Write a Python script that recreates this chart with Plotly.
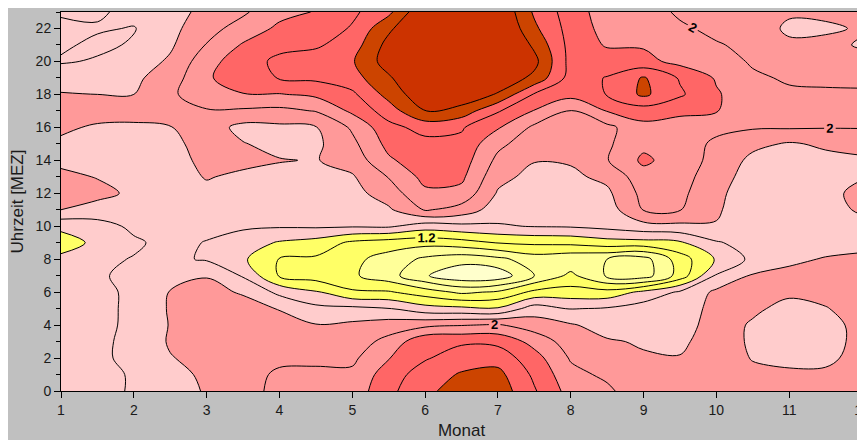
import numpy as np
import plotly.graph_objects as go

# Monate (x) und Uhrzeit (y)
monate = [1, 1.5, 2, 2.5, 3, 3.5, 4, 4.5, 5, 5.5, 6, 6.5, 7, 7.5, 8, 8.5, 9, 9.5, 10, 10.5, 11, 11.5, 12]
stunden_abw = list(range(23, -1, -1))  # order of values in each column: 23 h ... 0 h

# one column per month value, hours 23 -> 0
m_1_0 = [1.58, 1.64, 1.63, 1.58, 1.73, 1.81, 1.90, 1.84, 1.76, 1.75, 1.85, 1.92, 1.80, 1.45, 1.30, 1.45, 1.52, 1.54, 1.55, 1.55, 1.55, 1.55, 1.55, 1.55]
m_1_5 = [1.57, 1.62, 1.56, 1.62, 1.71, 1.80, 1.90, 1.77, 1.72, 1.71, 1.79, 1.86, 1.72, 1.52, 1.45, 1.56, 1.58, 1.56, 1.56, 1.55, 1.56, 1.57, 1.57, 1.57]
m_2_0 = [1.66, 1.59, 1.62, 1.69, 1.76, 1.80, 1.87, 1.77, 1.72, 1.72, 1.73, 1.76, 1.72, 1.64, 1.57, 1.61, 1.64, 1.63, 1.63, 1.64, 1.65, 1.64, 1.61, 1.61]
m_2_5 = [1.72, 1.74, 1.77, 1.83, 1.90, 1.96, 1.95, 1.79, 1.76, 1.74, 1.73, 1.74, 1.71, 1.67, 1.66, 1.64, 1.72, 1.81, 1.82, 1.81, 1.82, 1.79, 1.73, 1.70]
m_3_0 = [1.86, 1.93, 2.01, 2.12, 2.17, 2.14, 1.98, 1.90, 1.86, 1.84, 1.81, 1.76, 1.72, 1.66, 1.59, 1.58, 1.79, 1.86, 1.88, 1.88, 1.88, 1.86, 1.84, 1.82]
m_3_5 = [1.97, 2.08, 2.22, 2.32, 2.33, 2.19, 1.97, 1.74, 1.81, 1.84, 1.77, 1.72, 1.69, 1.63, 1.50, 1.43, 1.58, 1.78, 1.88, 1.92, 1.93, 1.93, 1.93, 1.92]
m_4_0 = [2.14, 2.24, 2.35, 2.44, 2.41, 2.19, 1.95, 1.76, 1.74, 1.81, 1.74, 1.70, 1.67, 1.62, 1.38, 1.19, 1.18, 1.55, 1.79, 1.87, 1.92, 1.96, 2.03, 2.06]
m_4_5 = [2.21, 2.28, 2.37, 2.50, 2.44, 2.24, 2.01, 1.79, 1.76, 1.79, 1.73, 1.70, 1.68, 1.63, 1.32, 1.17, 1.10, 1.43, 1.65, 1.81, 1.88, 1.95, 2.05, 2.10]
m_5_0 = [2.36, 2.42, 2.50, 2.58, 2.52, 2.36, 2.24, 2.03, 1.95, 1.88, 1.78, 1.73, 1.70, 1.62, 1.16, 1.05, 1.03, 1.23, 1.65, 1.84, 1.90, 1.96, 2.04, 2.08]
m_5_5 = [2.55, 2.76, 2.87, 2.90, 2.77, 2.67, 2.50, 2.34, 2.26, 2.17, 2.01, 1.90, 1.77, 1.63, 1.10, 0.92, 0.88, 1.22, 1.61, 1.90, 2.06, 2.19, 2.30, 2.35]
m_6_0 = [3.00, 3.05, 3.10, 3.10, 3.05, 2.95, 2.81, 2.47, 2.34, 2.32, 2.26, 2.16, 2.02, 1.50, 1.07, 0.76, 0.62, 1.10, 1.48, 1.95, 2.36, 2.38, 2.50, 2.55]
m_6_5 = [3.05, 3.10, 3.15, 3.15, 3.10, 2.95, 2.72, 2.42, 2.35, 2.30, 2.24, 2.14, 1.92, 1.55, 1.12, 0.68, 0.45, 0.96, 1.45, 1.99, 2.37, 2.50, 2.62, 2.70]
m_7_0 = [3.00, 3.05, 3.10, 3.05, 2.95, 2.78, 2.42, 2.22, 2.05, 1.95, 1.86, 1.78, 1.70, 1.58, 1.21, 0.75, 0.47, 1.03, 1.42, 2.02, 2.35, 2.52, 2.66, 2.72]
m_7_5 = [2.57, 2.64, 2.76, 2.86, 2.75, 2.38, 2.19, 1.96, 1.88, 1.81, 1.74, 1.70, 1.66, 1.61, 1.24, 0.90, 0.80, 1.25, 1.70, 1.90, 2.13, 2.28, 2.36, 2.42]
m_8_0 = [2.30, 2.32, 2.33, 2.33, 2.32, 2.27, 1.98, 1.90, 1.86, 1.82, 1.76, 1.68, 1.65, 1.62, 1.25, 0.85, 1.05, 1.28, 1.59, 1.82, 1.90, 1.98, 2.06, 2.12]
m_8_5 = [2.10, 2.13, 2.18, 2.30, 2.41, 2.41, 2.21, 1.95, 1.97, 1.99, 1.85, 1.76, 1.70, 1.66, 1.32, 0.80, 0.77, 1.27, 1.62, 1.72, 1.82, 1.90, 1.96, 2.04]
m_9_0 = [2.12, 2.15, 2.18, 2.26, 2.62, 2.64, 2.30, 2.14, 2.15, 2.24, 2.12, 2.06, 2.01, 1.73, 1.33, 0.72, 0.70, 1.45, 1.70, 1.75, 1.78, 1.82, 1.84, 1.86]
m_9_5 = [1.96, 2.04, 2.10, 2.14, 2.38, 2.43, 2.24, 2.12, 2.08, 2.10, 2.07, 2.05, 2.01, 1.75, 1.37, 1.10, 1.08, 1.63, 1.70, 1.72, 1.76, 1.81, 1.84, 1.86]
m_10_0 = [1.90, 1.94, 2.02, 2.12, 2.18, 2.22, 2.21, 2.04, 1.97, 1.94, 1.90, 1.84, 1.82, 1.79, 1.58, 1.42, 1.62, 1.84, 1.86, 1.88, 1.90, 1.90, 1.90, 1.90]
m_10_5 = [1.90, 1.92, 1.94, 1.97, 2.04, 2.08, 2.10, 2.02, 1.85, 1.75, 1.70, 1.70, 1.70, 1.70, 1.68, 1.65, 1.82, 1.86, 1.83, 1.78, 1.77, 1.79, 1.84, 1.86]
m_11_0 = [1.83, 1.76, 1.84, 1.90, 1.97, 2.04, 2.08, 2.02, 1.78, 1.72, 1.70, 1.70, 1.70, 1.70, 1.72, 1.77, 1.84, 1.83, 1.75, 1.70, 1.70, 1.74, 1.84, 1.86]
m_11_5 = [1.84, 1.77, 1.85, 1.90, 1.96, 2.03, 2.06, 2.01, 1.83, 1.75, 1.74, 1.76, 1.75, 1.72, 1.74, 1.81, 1.85, 1.86, 1.79, 1.72, 1.71, 1.75, 1.84, 1.87]
m_12_0 = [1.85, 1.82, 1.78, 1.86, 1.95, 2.03, 2.06, 2.01, 1.87, 1.77, 1.79, 1.84, 1.82, 1.75, 1.77, 1.82, 1.86, 1.88, 1.88, 1.87, 1.87, 1.88, 1.88, 1.88]

spalten = [m_1_0, m_1_5, m_2_0, m_2_5, m_3_0, m_3_5, m_4_0, m_4_5, m_5_0, m_5_5,
           m_6_0, m_6_5, m_7_0, m_7_5, m_8_0, m_8_5, m_9_0, m_9_5, m_10_0, m_10_5,
           m_11_0, m_11_5, m_12_0]

x_ticks = list(range(1, 13))

# contour levels and band colours
lvl_start, lvl_end, lvl_step = 0.6, 2.8, 0.2
band_colors = ['#ffffcc', '#ffff99', '#ffff99', '#ffff66', '#ffff66', '#ffcccc', '#ffcccc',
               '#ff9999', '#ff9999', '#ff6666', '#ff6666', '#cc4400', '#cc3300']
labelled_levels = [1.2, 2.0]

# build grid (rows = hours ascending)
z = np.array(spalten, dtype=float).T[::-1]
y = stunden_abw[::-1]

n = len(band_colors) - 1
cscale = []
for i, c in enumerate(band_colors):
    lo = max(0.0, (i - 0.5) / n)
    hi = min(1.0, (i + 0.5) / n)
    cscale.append([lo, c])
    cscale.append([hi, c])

fig = go.Figure()
fig.add_trace(go.Contour(
    x=monate, y=y, z=z,
    autocontour=False,
    contours=dict(start=lvl_start, end=lvl_end, size=lvl_step, coloring='fill', showlines=False),
    colorscale=cscale, showscale=False,
    line=dict(width=0, smoothing=1.0),
    hoverinfo='skip',
))

lv = lvl_start
levels = []
while lv <= lvl_end + 1e-9:
    levels.append(round(lv, 2))
    lv += lvl_step

for L in levels:
    lab = any(abs(L - q) < 1e-6 for q in labelled_levels)
    fig.add_trace(go.Contour(
        x=monate, y=y, z=z,
        autocontour=False,
        contours=dict(start=L, end=L, size=lvl_step, coloring='none',
                      showlabels=lab,
                      labelfont=dict(family='Liberation Sans, Arial, sans-serif', size=13,
                                     color='black', weight='bold')),
        line=dict(color='black', width=1, smoothing=1.0),
        showscale=False, hoverinfo='skip',
    ))

# page body has an 8 px default margin: figure is sized to compensate
fig.update_layout(
    width=857, height=432,
    paper_bgcolor='#c0c0c0', plot_bgcolor='#c0c0c0',
    margin=dict(l=53, r=3, t=4, b=49),
    font=dict(family='Liberation Sans, Arial, sans-serif', size=14, color='#1a1a1a'),
    showlegend=False,
    xaxis=dict(range=[1, 12], tickmode='array', tickvals=x_ticks, ticks='outside', ticklen=6,
               tickcolor='black', showline=True, linecolor='black', linewidth=1, mirror=True,
               ticklabeloverflow='allow', automargin=False,
               showgrid=False, zeroline=False, title=dict(text='Monat', standoff=8)),
    yaxis=dict(range=[0, 23], tick0=0, dtick=2, ticks='outside', ticklen=6, tickcolor='black',
               minor=dict(dtick=1, ticks='outside', ticklen=4, tickcolor='black'),
               showline=True, linecolor='black', linewidth=1, mirror=True,
               showgrid=False, zeroline=False, title=dict(text='Uhrzeit [MEZ]', standoff=10)),
)

fig.write_html('out.html')
